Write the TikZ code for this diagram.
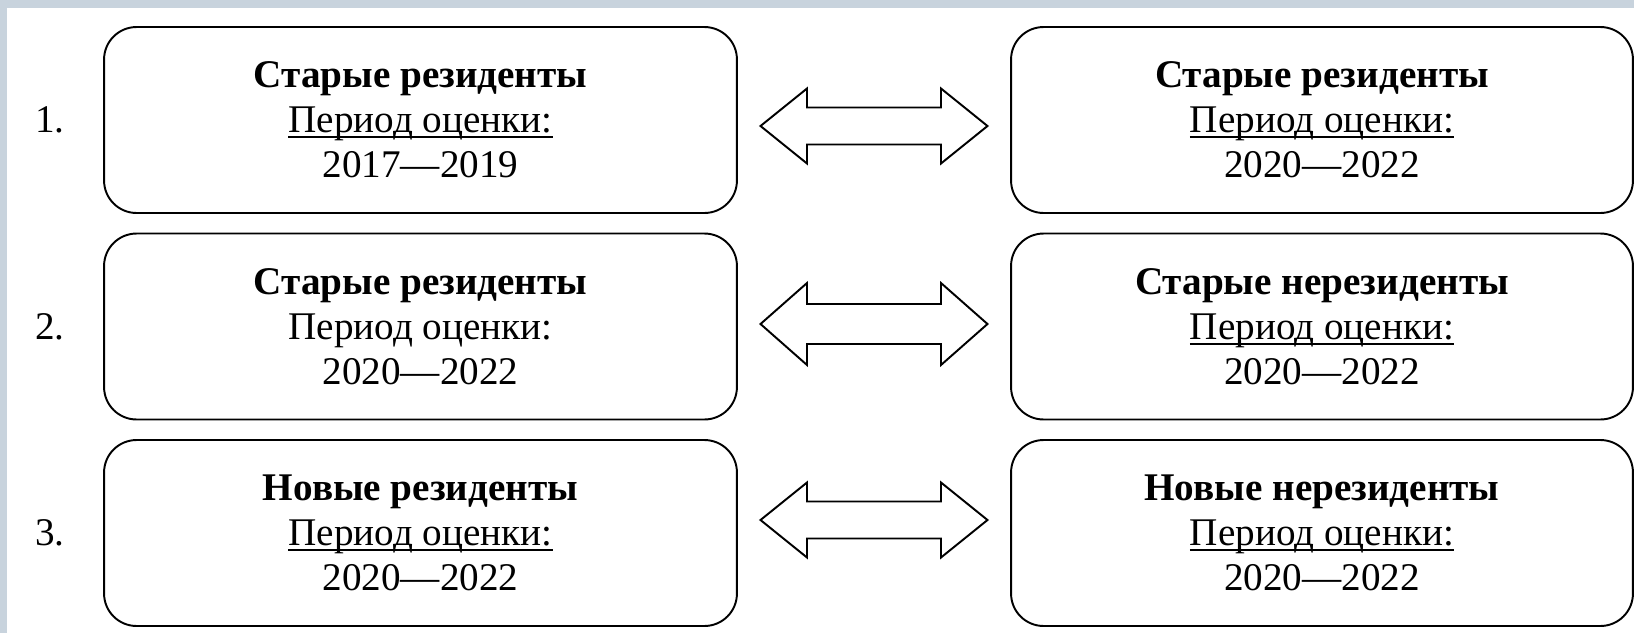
\documentclass[tikz,border=0pt]{standalone}
\usepackage{fontspec}
\setmainfont{Liberation Serif}
\usetikzlibrary{positioning,calc}

\definecolor{framebg}{RGB}{200,211,221}
\newcommand{\undl}[1]{\setbox0=\hbox{#1}\rlap{\rule[-0.14em]{\wd0}{0.055em}}\box0}

\tikzset{
  period/.style={draw=black, line width=1.1pt, rounded corners=0.65cm, align=center,
    minimum height=3.72cm, inner sep=0pt, font=\fontsize{22.3}{25.6}\selectfont},
  rowno/.style={inner sep=0pt, font=\fontsize{22.3}{25.6}\selectfont},
  twoway/.style={draw=black, line width=1.1pt, fill=white, line join=miter}
}

\begin{document}
\begin{tikzpicture}[x=0.02cm,y=-0.02cm]
\fill[framebg] (0,0) rectangle (1634,633);
\fill[white] (7,8) rectangle (1634,633);
\useasboundingbox (0,0) rectangle (1634,633);

\node[period, minimum width=12.66cm] (l1) at (420.5,120) {{\bfseries Старые резиденты}\\\undl{Период оценки:}\\2017—2019};
\node[period, minimum width=12.44cm] (r1) at (1322,120) {{\bfseries Старые резиденты}\\\undl{Период оценки:}\\2020—2022};
\node[period, minimum width=12.66cm] (l2) at (420.5,326.5) {{\bfseries Старые резиденты}\\Период оценки:\\2020—2022};
\node[period, minimum width=12.44cm] (r2) at (1322,326.5) {{\bfseries Старые нерезиденты}\\\undl{Период оценки:}\\2020—2022};
\node[period, minimum width=12.66cm] (l3) at (420.5,533) {{\bfseries Новые резиденты}\\\undl{Период оценки:}\\2020—2022};
\node[period, minimum width=12.44cm] (r3) at (1322,533) {{\bfseries Новые нерезиденты}\\\undl{Период оценки:}\\2020—2022};

\node[rowno, left=0.76cm of l1] (n1) {1.};
\node[rowno, left=0.76cm of l2] (n2) {2.};
\node[rowno, left=0.76cm of l3] (n3) {3.};

\coordinate (a1) at ($(l1.east)!.5!(r1.west)+(0,6)$);
\coordinate (a2) at ($(l2.east)!.5!(r2.west)+(0,-2.5)$);
\coordinate (a3) at ($(l3.east)!.5!(r3.west)+(0,-13)$);
\draw[twoway, shift={(a1)}] (-113.5,0) -- (-67,-37.5) -- (-67,-18.5) -- (67,-18.5) -- (67,-37.5) -- (113.5,0) -- (67,37.5) -- (67,18.5) -- (-67,18.5) -- (-67,37.5) -- cycle;
\draw[twoway, shift={(a2)}] (-113.5,0) -- (-67,-41) -- (-67,-20) -- (67,-20) -- (67,-41) -- (113.5,0) -- (67,41) -- (67,20) -- (-67,20) -- (-67,41) -- cycle;
\draw[twoway, shift={(a3)}] (-113.5,0) -- (-67,-37.5) -- (-67,-18.5) -- (67,-18.5) -- (67,-37.5) -- (113.5,0) -- (67,37.5) -- (67,18.5) -- (-67,18.5) -- (-67,37.5) -- cycle;
\end{tikzpicture}
\end{document}
